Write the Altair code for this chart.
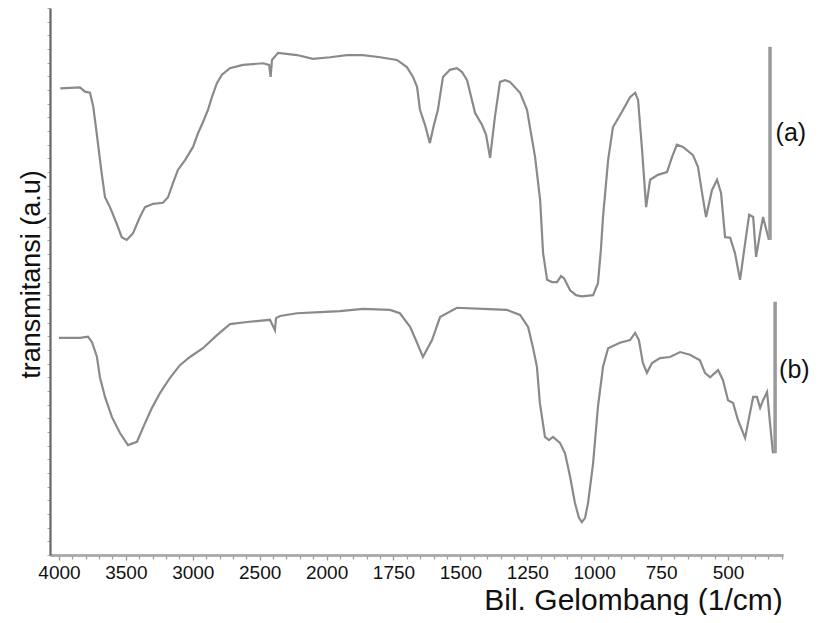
import altair as alt
import pandas as pd

# ---- data (wavenumber in 1/cm, transmittance in a.u.) ----
wn_a = [3990, 3843, 3806, 3768, 3744, 3718, 3681, 3656, 3619, 3569, 3531, 3494, 3447, 3395,
        3357, 3297, 3223, 3185, 3148, 3111, 3058, 2998, 2961, 2924, 2886, 2857, 2819, 2782,
        2722, 2625, 2475, 2430, 2418, 2408, 2363, 2221, 2102, 1987, 1924, 1864, 1800, 1737,
        1700, 1677, 1662, 1651, 1632, 1614, 1599, 1584, 1565, 1539, 1513, 1494, 1475, 1445,
        1419, 1404, 1389, 1371, 1352, 1333, 1315, 1277, 1251, 1240, 1221, 1202, 1191, 1176,
        1158, 1139, 1124, 1113, 1090, 1068, 1046, 1004, 986, 975, 967, 948, 930, 892, 866,
        847, 836, 821, 806, 791, 762, 728, 709, 691, 668, 631, 612, 597, 582, 560, 541, 526,
        511, 492, 474, 455, 436, 421, 406, 395, 380, 369, 354, 347]
t_a = [85.3, 85.5, 84.7, 84.5, 82.0, 77.1, 69.8, 65.4, 63.6, 60.6, 58.1, 57.6, 58.8, 61.8,
       63.6, 64.2, 64.4, 65.4, 68.0, 70.4, 72.2, 74.6, 77.1, 79.1, 81.4, 83.7, 86.3, 87.8,
       89.0, 89.6, 89.9, 89.6, 87.4, 90.5, 91.8, 91.4, 90.7, 91.0, 91.4, 91.4, 91.0, 90.5,
       89.2, 87.4, 85.6, 81.4, 78.6, 75.3, 78.6, 81.4, 87.4, 88.7, 89.0, 88.3, 86.8, 80.8,
       78.6, 76.8, 72.6, 80.1, 86.5, 86.8, 86.5, 84.5, 81.4, 78.2, 72.8, 64.9, 55.2, 50.3,
       49.9, 49.9, 51.0, 50.6, 48.4, 47.5, 47.3, 47.5, 49.7, 55.8, 61.8, 72.2, 78.2, 81.4, 83.7,
       84.5, 83.2, 74.0, 63.6, 68.6, 69.5, 70.0, 72.8, 75.0, 74.6, 73.1, 70.9, 66.2, 61.8, 66.7,
       68.6, 66.2, 58.1, 58.0, 55.2, 50.3, 57.0, 62.2, 61.8, 54.5, 58.9, 61.8, 58.9, 57.6]

wn_b = [4000, 3843, 3783, 3753, 3716, 3694, 3656, 3604, 3544, 3484, 3417, 3357, 3305, 3245,
        3170, 3096, 3021, 2924, 2819, 2722, 2595, 2423, 2386, 2378, 2348, 2221, 2049, 1950,
        1864, 1763, 1726, 1688, 1662, 1640, 1606, 1576, 1513, 1416, 1326, 1277, 1247, 1229,
        1214, 1203, 1184, 1169, 1154, 1128, 1109, 1090, 1072, 1057, 1046, 1034, 1023, 1004,
        986, 967, 948, 904, 866, 847, 833, 818, 803, 784, 754, 717, 679, 642, 605, 586, 567,
        537, 519, 500, 481, 463, 436, 421, 406, 392, 380, 369, 354, 343, 332]
t_b = [39.7, 39.7, 39.9, 38.9, 36.2, 32.5, 28.9, 25.2, 22.3, 20.1, 20.7, 24.1, 26.9, 29.6,
       32.4, 34.7, 36.2, 37.8, 40.2, 42.2, 42.6, 43.0, 41.1, 43.3, 43.7, 44.2, 44.4, 44.6,
       45.0, 44.8, 44.2, 41.7, 38.8, 36.2, 39.3, 43.5, 45.2, 45.0, 44.8, 43.9, 41.7, 38.0,
       34.4, 27.8, 21.6, 21.0, 21.6, 20.5, 18.6, 14.3, 9.5, 6.8, 6.0, 6.8, 9.5, 16.8,
       27.1, 34.4, 37.8, 38.8, 39.3, 40.6, 39.3, 35.1, 33.3, 35.1, 36.0, 36.2, 37.1, 36.6,
       35.6, 33.3, 32.5, 33.8, 32.0, 28.3, 27.8, 24.7, 21.4, 25.2, 28.9, 28.9, 26.9, 28.3,
       29.8, 24.1, 18.6]

# end markers (vertical bars) and curve labels
marker_label = ["(a)", "(b)"]
marker_wn = [343, 324]
marker_top = [92.9, 46.3]
marker_bottom = [57.6, 18.6]
label_wn = [265, 252]
label_t = [77.1, 33.8]

tick_labels = [4000, 3500, 3000, 2500, 2000, 1750, 1500, 1250, 1000, 750, 500]

# ---- tables ----
spec = pd.DataFrame({
    "wn": wn_a + wn_b,
    "t": t_a + t_b,
    "series": ["a"] * len(wn_a) + ["b"] * len(wn_b),
    "i": list(range(len(wn_a))) + list(range(len(wn_b))),
})
marks = pd.DataFrame({"label": marker_label, "wn": marker_wn, "top": marker_top,
                      "bottom": marker_bottom, "lwn": label_wn, "lt": label_t})

POS = "datum.wn >= 2000 ? 4000 - datum.wn : 2000 + 2 * (2000 - datum.wn)"
LPOS = "datum.lwn >= 2000 ? 4000 - datum.lwn : 2000 + 2 * (2000 - datum.lwn)"


def to_pos(w):
    return 4000 - w if w >= 2000 else 2000 + 2 * (2000 - w)


major_pos = [to_pos(w) for w in tick_labels]
minor_pos = list(range(0, 5401, 100))

xscale = alt.Scale(domain=[-67, 5411], nice=False, zero=False)
yscale = alt.Scale(domain=[0, 100], nice=False, zero=False)

xaxis_major = alt.Axis(
    orient="bottom",
    values=major_pos,
    labelExpr="datum.value <= 2000 ? 4000 - datum.value : 3000 - datum.value / 2",
    labelFont="Liberation Sans", labelFontSize=19, labelColor="#111",
    labelPadding=3, labelFlush=False, labelOverlap=False,
    tickSize=5, tickColor="#999", tickWidth=1.2,
    domainColor="#aaa", domainWidth=2.5, grid=False,
    title="Bil. Gelombang (1/cm)", titleFont="Liberation Sans", titleFontSize=30,
    titleFontWeight="normal", titleColor="#111",
    titleX=583, titleY=45, titleAlign="center", titleBaseline="middle",
)
xaxis_minor = alt.Axis(
    orient="bottom",
    values=minor_pos, labels=False, title=None,
    tickSize=4, tickColor="#999", tickWidth=1.2,
    domainColor="#aaa", domainWidth=2.5, grid=False,
)
yaxis = alt.Axis(
    values=[v * 2.5 for v in range(41)], labels=False,
    tickSize=3, tickColor="#aaa", tickWidth=1,
    domainColor="#666", domainWidth=2.2, grid=False,
    title="transmitansi (a.u)", titleFont="Liberation Sans", titleFontSize=27,
    titleFontWeight="normal", titleColor="#111", titleAngle=270,
    titleX=-19, titleY=266, titleAlign="center", titleBaseline="middle",
)

lines = alt.Chart(spec).transform_calculate(pos=POS).mark_line(
    color="#8a8a8a", strokeWidth=2.2, clip=False
).encode(
    x=alt.X("pos:Q", scale=xscale, axis=xaxis_major),
    y=alt.Y("t:Q", scale=yscale, axis=yaxis),
    detail="series:N",
    order="i:Q",
)

bars = alt.Chart(marks).transform_calculate(pos=POS).mark_rule(
    color="#9a9a9a", strokeWidth=3.5
).encode(
    x=alt.X("pos:Q", scale=xscale, axis=xaxis_minor),
    y=alt.Y("top:Q", scale=yscale, axis=yaxis),
    y2="bottom:Q",
)

texts = alt.Chart(marks).transform_calculate(lpos=LPOS).mark_text(
    font="Liberation Sans", fontSize=25, color="#111", align="center", baseline="middle"
).encode(
    x=alt.X("lpos:Q", scale=xscale, axis=None),
    y=alt.Y("lt:Q", scale=yscale, axis=yaxis),
    text="label:N",
)

chart = alt.layer(lines, bars, texts).resolve_axis(x="independent").properties(
    width=733, height=547,
    padding={"left": 42, "top": 0, "right": 28, "bottom": 60},
    autosize=alt.AutoSizeParams(type="none"),
    background="white",
).configure_view(stroke=None)

chart.save("out.html", embed_options={"renderer": "svg", "actions": False})
